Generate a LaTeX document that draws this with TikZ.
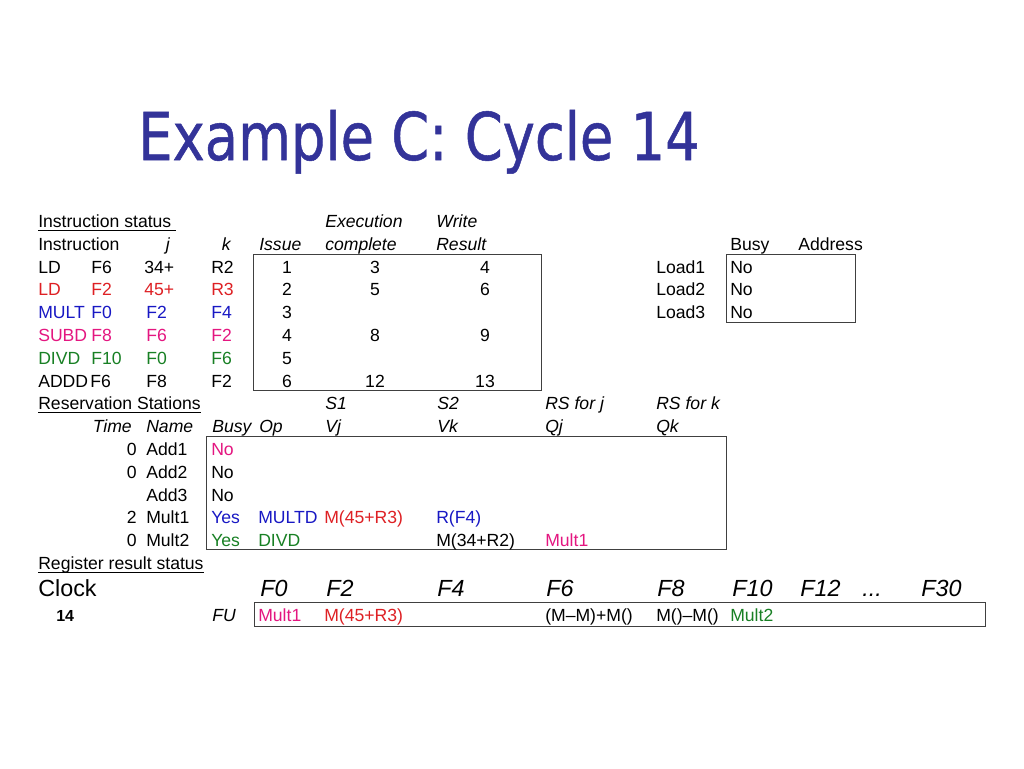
\documentclass[tikz,border=0pt]{standalone}
\usepackage{fontspec}
\setmainfont{Liberation Sans}
\newfontfamily\titlefont[FakeBold=0.8]{DejaVu Sans}
\definecolor{ttl}{RGB}{51,51,153}
\definecolor{cred}{RGB}{222,32,36}
\definecolor{cmag}{RGB}{228,22,128}
\definecolor{cblue}{RGB}{24,24,196}
\definecolor{cgreen}{RGB}{24,128,36}
\definecolor{frm}{RGB}{64,64,64}
\begin{document}
\begin{tikzpicture}[x=0.75pt,y=-0.75pt,
  t/.style={anchor=base west,inner sep=0pt,font=\fontsize{13.2}{15}\selectfont},
  tr/.style={t,anchor=base east},
  tc/.style={t,anchor=base},
  ti/.style={t,font=\fontsize{13.2}{15}\selectfont\itshape},
  tir/.style={ti,anchor=base east},
  big/.style={anchor=base west,inner sep=0pt,font=\fontsize{17.5}{21}\selectfont},
  bigi/.style={big,font=\fontsize{17.5}{21}\selectfont\itshape},
  frame/.style={draw=frm,line width=0.9pt},
  uline/.style={line width=0.7pt}]
\fill[white] (0,0) rectangle (1024,768);
\useasboundingbox (0,0) rectangle (1024,768);

% title
\node[anchor=base west,inner sep=0pt,text=ttl] (title) at (138,160)
  {\titlefont\fontsize{49.4}{55}\selectfont\scalebox{0.825}[1]{Example C: Cycle 14}};

% ---------- instruction status ----------
\node[t] (ist) at (38,227.5) {Instruction status};
\draw[uline] ([yshift=-2pt]ist.base west) -- ([yshift=-2pt,xshift=3.5pt]ist.base east);
\node[ti] (hexe) at (325,227.5) {Execution};
\node[ti] (hwr) at (436,227.5) {Write};

\node[t] (hins) at (38,250.3) {Instruction};
\node[tir] (hj) at (170,250.3) {j};
\node[tir] (hk) at (231,250.3) {k};
\node[ti] (his) at (259,250.3) {Issue};
\node[ti] (hcmp) at (325,250.3) {complete};
\node[ti] (hres) at (436,250.3) {Result};
\node[t] (hbusy) at (730,250.3) {Busy};
\node[t] (haddr) at (798,250.3) {Address};

\node[frame,rectangle,inner sep=0pt,anchor=north west,minimum width=216pt,minimum height=102pt] (ibox) at (253,254) {};
\node[frame,rectangle,inner sep=0pt,anchor=north west,minimum width=96.75pt,minimum height=51pt] (lbox) at (726,254) {};

% rows
\node[t] (o1) at (38,273.1) {LD};
\node[t] (d1) at (91,273.1) {F6};
\node[t] (j1) at (144,273.1) {34+};
\node[t] (k1) at (211,273.1) {R2};
\node[tc] (is1) at (287,273.1) {1};
\node[tc] (ex1) at (375,273.1) {3};
\node[tc] (wr1) at (485,273.1) {4};

\begin{scope}[every node/.append style={text=cred}]
\node[t] (o2) at (38,295.9) {LD};
\node[t] (d2) at (91,295.9) {F2};
\node[t] (j2) at (144,295.9) {45+};
\node[t] (k2) at (211,295.9) {R3};
\end{scope}
\node[tc] (is2) at (287,295.9) {2};
\node[tc] (ex2) at (375,295.9) {5};
\node[tc] (wr2) at (485,295.9) {6};

\begin{scope}[every node/.append style={text=cblue}]
\node[t] (o3) at (38,318.7) {MULT};
\node[t] (d3) at (91,318.7) {F0};
\node[t] (j3) at (146,318.7) {F2};
\node[t] (k3) at (211,318.7) {F4};
\end{scope}
\node[tc] (is3) at (287,318.7) {3};

\begin{scope}[every node/.append style={text=cmag}]
\node[t] (o4) at (38,341.5) {SUBD};
\node[t] (d4) at (91,341.5) {F8};
\node[t] (j4) at (146,341.5) {F6};
\node[t] (k4) at (211,341.5) {F2};
\end{scope}
\node[tc] (is4) at (287,341.5) {4};
\node[tc] (ex4) at (375,341.5) {8};
\node[tc] (wr4) at (485,341.5) {9};

\begin{scope}[every node/.append style={text=cgreen}]
\node[t] (o5) at (38,364.3) {DIVD};
\node[t] (d5) at (91,364.3) {F10};
\node[t] (j5) at (146,364.3) {F0};
\node[t] (k5) at (211,364.3) {F6};
\end{scope}
\node[tc] (is5) at (287,364.3) {5};

\node[t] (o6) at (38,387.1) {ADDD};
\node[t] (d6) at (90,387.1) {F6};
\node[t] (j6) at (146,387.1) {F8};
\node[t] (k6) at (211,387.1) {F2};
\node[tc] (is6) at (287,387.1) {6};
\node[tc] (ex6) at (375,387.1) {12};
\node[tc] (wr6) at (485,387.1) {13};

% load buffers
\node[t] (ld1) at (656,273.1) {Load1};
\node[t] (lb1) at (730,273.1) {No};
\node[t] (ld2) at (656,295.9) {Load2};
\node[t] (lb2) at (730,295.9) {No};
\node[t] (ld3) at (656,318.7) {Load3};
\node[t] (lb3) at (730,318.7) {No};

% ---------- reservation stations ----------
\node[t] (rst) at (38,409.9) {Reservation Stations};
\draw[uline] ([yshift=-2pt]rst.base west) -- ([yshift=-2pt]rst.base east);
\node[ti] (hs1) at (325,409.9) {S1};
\node[ti] (hs2) at (437,409.9) {S2};
\node[ti] (hrj) at (545,409.9) {RS for j};
\node[ti] (hrk) at (656,409.9) {RS for k};

\node[tir] (htime) at (132,432.7) {Time};
\node[ti] (hname) at (146,432.7) {Name};
\node[ti] (hrbusy) at (212,432.7) {Busy};
\node[ti] (hop) at (259,432.7) {Op};
\node[ti] (hvj) at (325,432.7) {Vj};
\node[ti] (hvk) at (437,432.7) {Vk};
\node[ti] (hqj) at (545,432.7) {Qj};
\node[ti] (hqk) at (656,432.7) {Qk};

\node[frame,rectangle,inner sep=0pt,anchor=north west,minimum width=390pt,minimum height=84.75pt] (rbox) at (206,436) {};

\node[tr] (tm1) at (137,455.5) {0};
\node[t] (nm1) at (146,455.5) {Add1};
\node[t,text=cmag] (bz1) at (211,455.5) {No};
\node[tr] (tm2) at (137,478.3) {0};
\node[t] (nm2) at (146,478.3) {Add2};
\node[t] (bz2) at (211,478.3) {No};
\node[t] (nm3) at (146,501.1) {Add3};
\node[t] (bz3) at (211,501.1) {No};
\node[tr] (tm4) at (137,523.9) {2};
\node[t] (nm4) at (146,523.9) {Mult1};
\node[t,text=cblue] (bz4) at (211,523.9) {Yes};
\node[t,text=cblue] (op4) at (258,523.9) {MULTD};
\node[t,text=cred] (vj4) at (324,523.9) {M(45+R3)};
\node[t,text=cblue] (vk4) at (436,523.9) {R(F4)};
\node[tr] (tm5) at (137,546.7) {0};
\node[t] (nm5) at (146,546.7) {Mult2};
\node[t,text=cgreen] (bz5) at (211,546.7) {Yes};
\node[t,text=cgreen] (op5) at (258,546.7) {DIVD};
\node[t] (vk5) at (436,546.7) {M(34+R2)};
\node[t,text=cmag] (qj5) at (545,546.7) {Mult1};

% ---------- register result status ----------
\node[t] (rrs) at (38,569.5) {Register result status};
\draw[uline] ([yshift=-2pt]rrs.base west) -- ([yshift=-2pt]rrs.base east);

\node[big] (clk) at (38,596.5) {Clock};
\node[bigi] (f0) at (260,596.5) {F0};
\node[bigi] (f2) at (326,596.5) {F2};
\node[bigi] (f4) at (437,596.5) {F4};
\node[bigi] (f6) at (546,596.5) {F6};
\node[bigi] (f8) at (657,596.5) {F8};
\node[bigi] (f10) at (732,596.5) {F10};
\node[bigi] (f12) at (800,596.5) {F12};
\node[bigi] (fdots) at (862,596.5) {...};
\node[bigi] (f30) at (921,596.5) {F30};

\node[frame,rectangle,inner sep=0pt,anchor=north west,minimum width=548.25pt,minimum height=18pt] (fbox) at (254,602) {};

\node[anchor=base west,inner sep=0pt,font=\fontsize{12}{14}\selectfont\bfseries] (cyc) at (56,621) {14};
\node[ti] (fu) at (212,621) {FU};
\node[t,text=cmag] (r0) at (258,621) {Mult1};
\node[t,text=cred] (r2) at (324,621) {M(45+R3)};
\node[t] (r6) at (545,621) {(M–M)+M()};
\node[t] (r8) at (656,621) {M()–M()};
\node[t,text=cgreen] (r10) at (730,621) {Mult2};
\end{tikzpicture}
\end{document}
